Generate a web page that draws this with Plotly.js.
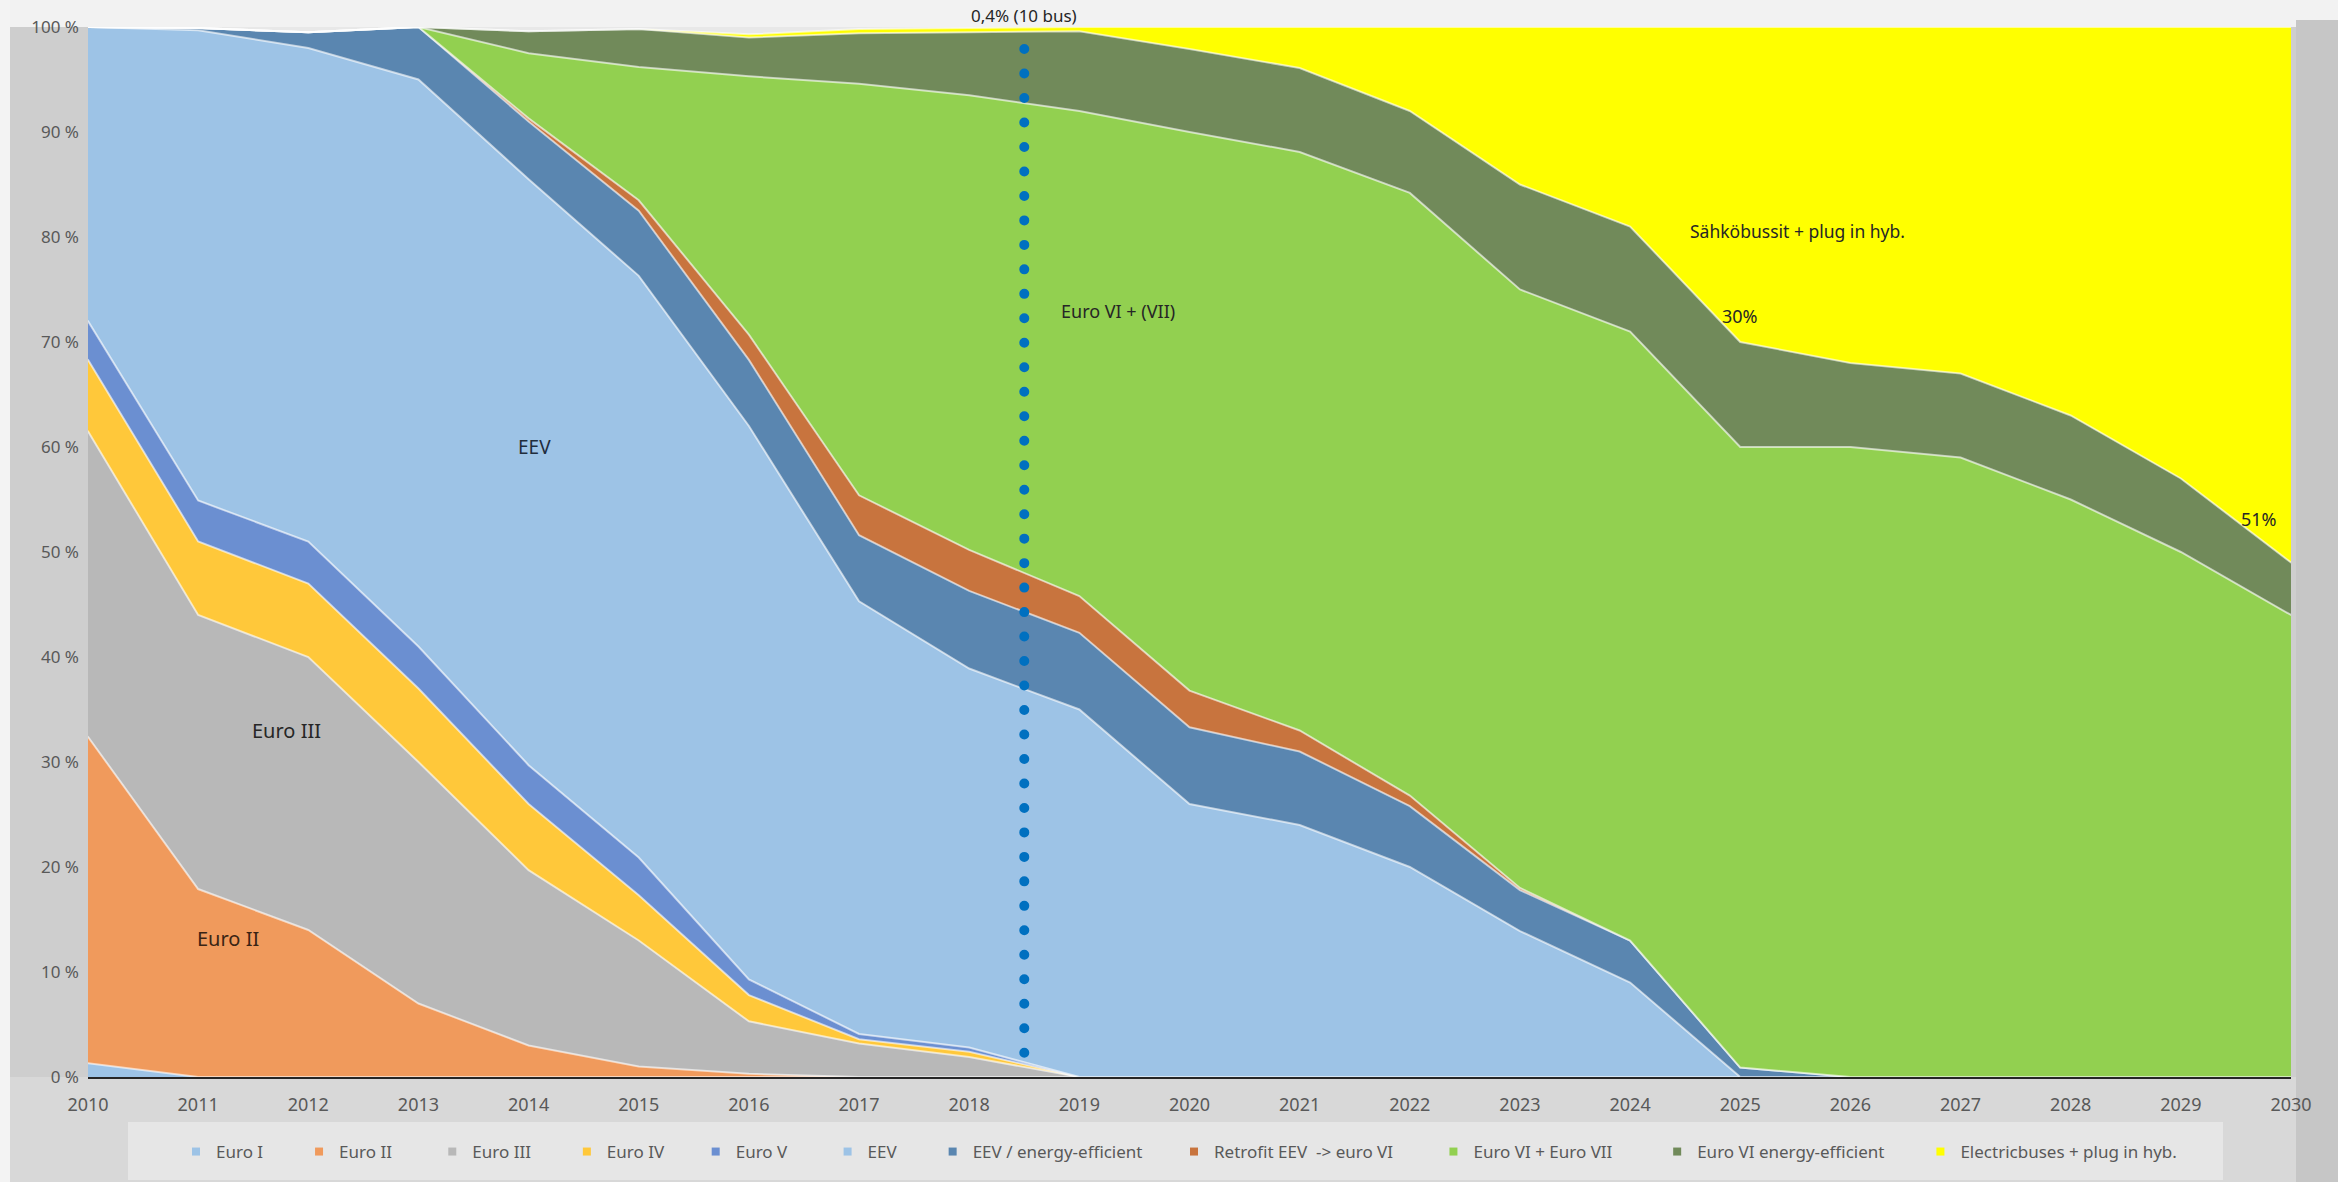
<!DOCTYPE html>
<html>
<head>
<meta charset="utf-8">
<script src="https://cdn.plot.ly/plotly-3.0.1.min.js"></script>
<style>
html,body{margin:0;padding:0;background:#cecece;}
#chart{width:2338px;height:1182px;}
.scatterlayer path.js-line{stroke-linecap:round;}
</style>
</head>
<body>
<div id="chart"></div>
<script>
// ---- data (percent of bus fleet) ----
const years = [2010,2011,2012,2013,2014,2015,2016,2017,2018,2019,2020,2021,2022,2023,2024,2025,2026,2027,2028,2029,2030];
const euroI    = [1.3,0,0,0,0,0,0,0,0,0,0,0,0,0,0,0,0,0,0,0,0];
const euroII   = [31.1,17.9,14.0,7.0,3.0,1.0,0.3,0,0,0,0,0,0,0,0,0,0,0,0,0,0];
const euroIII  = [29.1,26.1,26.0,23.0,16.7,12.0,5.0,3.2,1.9,0,0,0,0,0,0,0,0,0,0,0,0];
const euroIV   = [6.8,7.0,7.0,7.0,6.3,4.3,2.5,0.4,0.5,0,0,0,0,0,0,0,0,0,0,0,0];
const euroV    = [3.7,3.9,4.0,4.0,3.7,3.6,1.5,0.5,0.4,0,0,0,0,0,0,0,0,0,0,0,0];
const eev      = [28.0,44.8,47.0,54.0,55.8,55.4,52.7,41.2,36.1,35.0,26.0,24.0,20.0,13.9,9.0,0,0,0,0,0,0];
const eevEE    = [0,0.2,1.5,5.0,5.5,6.2,6.3,6.3,7.4,7.3,7.3,7.0,5.8,3.9,4.0,0.9,0,0,0,0,0];
const retrofit = [0,0,0,0,0.3,1.0,2.4,3.8,3.9,3.5,3.5,2.0,1.0,0.2,0,0,0,0,0,0,0];
const euroVI   = [0,0,0,0,6.2,12.7,24.6,39.2,43.3,46.2,53.2,55.1,57.4,57.0,58.0,59.1,60.0,59.0,55.0,50.0,44.0];
const euroVIee = [0,0,0,0,2.1,3.6,3.7,4.8,6.0,7.6,7.9,8.0,7.8,10.0,10.0,10.0,8.0,8.0,8.0,7.0,5.0];
const electric = [0,0,0,0,0,0,0.3,0.4,0.4,0.4,2.1,3.9,8.0,15.0,19.0,30.0,32.0,33.0,37.0,43.0,51.0];

const seriesNames = ['Euro I','Euro II','Euro III','Euro IV','Euro V','EEV','EEV / energy-efficient',
  'Retrofit EEV \u00A0-> euro VI','Euro VI + Euro VII','Euro VI energy-efficient','Electricbuses + plug in hyb.'];
const seriesValues = [euroI,euroII,euroIII,euroIV,euroV,eev,eevEE,retrofit,euroVI,euroVIee,electric];
const seriesColors = ['#9dc3e6','#f09a5c','#b8b8b8','#ffc83a','#6b8fd1','#9dc3e6','#5a86b0',
  '#c8743e','#92d050','#718a5a','#ffff00'];
const legendPad = [7,8,7,6,8,7,6,8,9,7,0];

const yTickVals = [0,10,20,30,40,50,60,70,80,90,100];
const yTickText = ['0 %','10 %','20 %','30 %','40 %','50 %','60 %','70 %','80 %','90 %','100 %'];
const markerYear = 2018.5;
const markerSpan = [97.9, 0];

const traces = [];
seriesValues.forEach((vals, i) => {
  traces.push({
    type:'scatter', x:years, y:vals, stackgroup:'fleet', mode:'lines',
    line:{color:'rgba(255,255,255,0.6)', width:2},
    fillcolor:seriesColors[i], showlegend:false, hoverinfo:'skip', name:seriesNames[i]
  });
});
seriesNames.forEach((n, i) => {
  traces.push({
    type:'scatter', x:[years[0]], y:[null], mode:'markers',
    marker:{symbol:'square', size:8, color:seriesColors[i]},
    name: n + '\u00A0'.repeat(legendPad[i]), showlegend:true, hoverinfo:'skip'
  });
});
traces.push({
  type:'scatter', x:[markerYear, markerYear], y:markerSpan, mode:'lines',
  line:{color:'#0070c0', width:10, dash:'0px,24.48px'}, showlegend:false, hoverinfo:'skip'
});

const W = 2338, H = 1182, L = 88, R = 47, T = 27, B = 105;
const pw = W - L - R, ph = H - T - B;
const px = v => (v - L) / pw;
const py = v => (H - B - v) / ph;

const annFont = {family:'Noto Sans, sans-serif', color:'#262626'};
const ann = (x, y, text, size, extra) => Object.assign({x, y, xref:'x', yref:'y', text, showarrow:false,
  font:Object.assign({}, annFont, {size})}, extra || {});

const layout = {
  width:W, height:H,
  margin:{l:L, r:R, t:T, b:B, pad:0},
  paper_bgcolor:'#cecece',
  plot_bgcolor:'#e8e8e8',
  font:{family:'Noto Sans, sans-serif', color:'#595959'},
  showlegend:true,
  legend:{orientation:'h', traceorder:'normal', x:px(176), xanchor:'left', y:py(1152), yanchor:'middle',
    bgcolor:'rgba(0,0,0,0)', font:{size:17, color:'#595959'}, itemclick:false},
  xaxis:{range:[2010,2030], tickvals:years, ticktext:years.map(String), showgrid:false,
    zeroline:false, showline:true, linecolor:'#262626', linewidth:2, ticks:'',
    tickfont:{size:18, color:'#595959'}, ticklabelstandoff:10, fixedrange:true},
  yaxis:{range:[0,100], tickvals:yTickVals, ticktext:yTickText, showgrid:true, gridcolor:'#d8d8d8',
    zeroline:false, showline:false, ticks:'', tickfont:{size:17, color:'#595959'},
    ticklabelstandoff:8, fixedrange:true},
  shapes:[
    {type:'rect', xref:'paper', yref:'paper', x0:px(0), x1:px(W), y0:1, y1:py(0), fillcolor:'#f2f2f2', line:{width:0}, layer:'below'},
    {type:'rect', xref:'paper', yref:'paper', x0:px(0), x1:px(10), y0:py(H), y1:py(0), fillcolor:'#f3f3f3', line:{width:0}, layer:'below'},
    {type:'rect', xref:'paper', yref:'paper', x0:px(10), x1:px(W), y0:py(H), y1:0, fillcolor:'#d8d8d8', line:{width:0}, layer:'below'},
    {type:'rect', xref:'paper', yref:'paper', x0:px(128), x1:px(2223), y0:py(1180), y1:py(1122), fillcolor:'#e6e6e6', line:{width:0}, layer:'below'},
    {type:'rect', xref:'paper', yref:'paper', x0:px(2296), x1:px(W), y0:py(H), y1:py(20), fillcolor:'#c6c6c6', line:{width:0}, layer:'below'}
  ],
  annotations:[
    {x:markerYear, y:py(2), xref:'x', yref:'paper', text:'0,4% (10 bus)', showarrow:false,
      font:Object.assign({}, annFont, {size:17})},
    ann(2019.35, 73.0, 'Euro VI + (VII)', 18),
    ann(2014.05, 60.0, 'EEV', 19, {font:{family:'Noto Sans, sans-serif', size:19, color:'#1f2d3d'}}),
    ann(2011.8, 33.0, 'Euro III', 20),
    ann(2011.27, 13.2, 'Euro II', 20, {font:{family:'Noto Sans, sans-serif', size:20, color:'#3a2414'}}),
    ann(2025.52, 80.6, 'Sähköbussit + plug in hyb.', 17.5),
    ann(2025.0, 72.5, '30%', 18),
    ann(2029.71, 53.1, '51%', 18)
  ]
};

Plotly.newPlot('chart', traces, layout, {displayModeBar:false, staticPlot:true});
</script>
</body>
</html>
